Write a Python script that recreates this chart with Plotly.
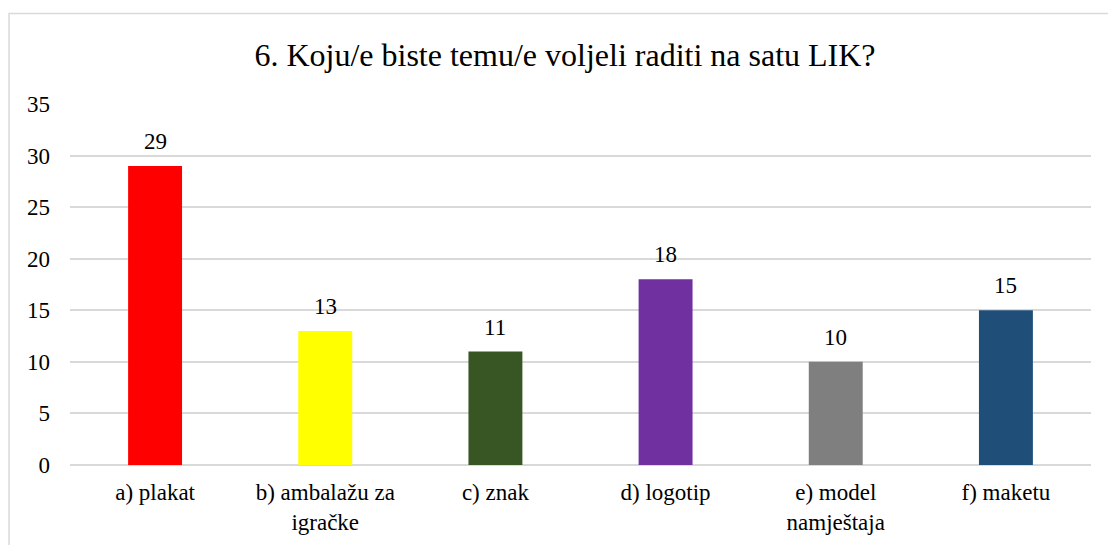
import plotly.graph_objects as go

# Survey answers: which topic pupils would like to work on in art class
categories = ["a) plakat", "b) ambalažu za<br>igračke", "c) znak", "d) logotip",
              "e) model<br>namještaja", "f) maketu"]
counts = [29, 13, 11, 18, 10, 15]
bar_colors = ["#FF0000", "#FFFF00", "#375623", "#7030A0", "#7F7F7F", "#1F4E79"]
y_ticks = [0, 5, 10, 15, 20, 25, 30, 35]

FONT = "'Times New Roman', 'Liberation Serif', serif"
LABEL_SIZE = 23

fig = go.Figure(
    go.Bar(
        x=categories,
        y=counts,
        marker=dict(color=bar_colors, line=dict(width=0)),
        hoverinfo="x+y",
    )
)

# value labels above each bar
for cat, val in zip(categories, counts):
    fig.add_annotation(
        x=cat, y=val, text=str(val), showarrow=False,
        yanchor="bottom", yshift=10,
        font=dict(family=FONT, size=LABEL_SIZE, color="#000000"),
    )

# light frame around the whole chart
fig.add_shape(
    type="rect", xref="paper", yref="paper",
    x0=-0.0597, x1=1.03, y0=-0.30, y1=1.2507,
    line=dict(color="#D9D9D9", width=1.5), fillcolor="rgba(0,0,0,0)",
    layer="below",
)

fig.update_layout(
    width=1108, height=545,
    margin=dict(l=70, r=17, t=104, b=80),
    paper_bgcolor="#FFFFFF", plot_bgcolor="#FFFFFF",
    bargap=0.683,
    showlegend=False,
    title=dict(
        text="6. Koju/e biste temu/e voljeli raditi na satu LIK?",
        x=0.4848, xref="paper", xanchor="center",
        y=0.899, yanchor="middle",
        font=dict(family=FONT, size=32, color="#000000"),
    ),
    font=dict(family=FONT, size=LABEL_SIZE, color="#000000"),
    xaxis=dict(
        showgrid=False, zeroline=False, showline=False, automargin=False,
        ticks="", tickfont=dict(family=FONT, size=LABEL_SIZE, color="#000000"),
        ticklabelstandoff=11,
    ),
    yaxis=dict(
        range=[0, 35], tickvals=y_ticks, showgrid=True, automargin=False,
        gridcolor="#D9D9D9", gridwidth=1.5,
        zeroline=True, zerolinecolor="#D9D9D9", zerolinewidth=1.5,
        showline=False, ticks="",
        tickfont=dict(family=FONT, size=LABEL_SIZE, color="#000000"),
        ticklabelstandoff=19,
    ),
)

fig.write_html("out.html")
